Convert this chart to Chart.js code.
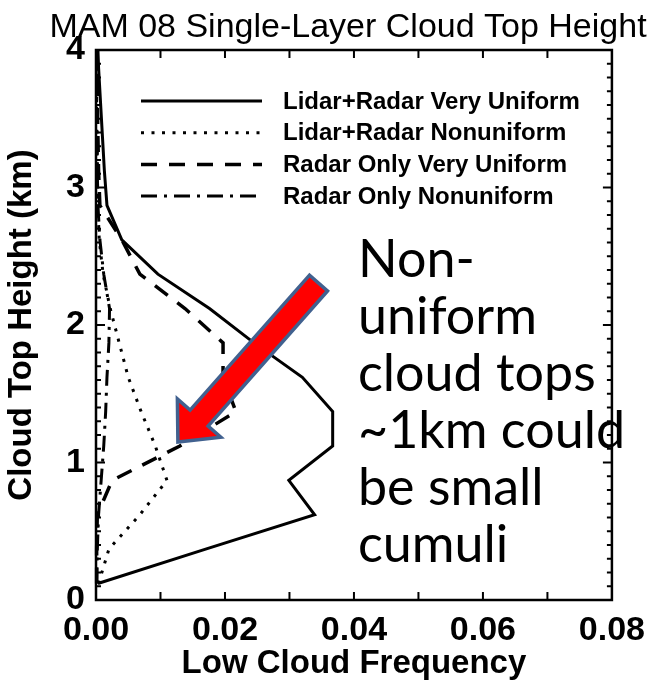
<!DOCTYPE html>
<html>
<head>
<meta charset="utf-8">
<script src="https://cdn.jsdelivr.net/npm/chart.js@4/dist/chart.umd.min.js"></script>
<style>
  body { margin: 0; background: #fff; }
  canvas { display: block; }
</style>
</head>
<body>
<canvas id="cloudTop" width="655" height="691"></canvas>
<script>
// cloud top height bins (km)
let heights = [0.12, 0.37, 0.62, 0.87, 1.12, 1.37, 1.62, 1.87, 2.12, 2.37, 2.62, 2.87, 3.12, 3.37, 3.62, 3.87, 4.0]

// low cloud frequency per bin
let lidarUniform    = [0.0003, 0.0170, 0.0339, 0.0299, 0.0367, 0.0367, 0.0320, 0.0245, 0.0176, 0.0096, 0.0040, 0.0017, 0.0013, 0.0010, 0.0007, 0.0004, 0.0003]
let lidarNonuniform = [0.0004, 0.0020, 0.0068, 0.0110, 0.0092, 0.0070, 0.0050, 0.0036, 0.0022, 0.0011, 0.0005, 0.0003, 0.0002, 0.0002, 0.0001, 0.0001, 0.0001]
let radarUniform    = [0.0001, 0.0001, 0.0002, 0.0025, 0.0130, 0.0217, 0.0197, 0.0197, 0.0138, 0.0068, 0.0040, 0.0006, 0.0004, 0.0003, 0.0002, 0.0002, 0.0001]
let radarNonuniform = [0.0001, 0.0002, 0.0004, 0.0008, 0.0012, 0.0015, 0.0017, 0.0020, 0.0021, 0.0012, 0.0006, 0.0003, 0.0002, 0.0001, 0.0001, 0.0001, 0.0001]

let seriesNames = ['Lidar+Radar Very Uniform', 'Lidar+Radar Nonuniform', 'Radar Only Very Uniform', 'Radar Only Nonuniform']
let xTicks = [0, 0.02, 0.04, 0.06, 0.08]
let yTicks = [0, 1, 2, 3, 4]

let titleText = 'MAM 08 Single-Layer Cloud Top Height'
let noteLines = ['Non-', 'uniform', 'cloud tops', '~1km could', 'be small', 'cumuli']

// arrow from the note down to the ~1 km peak (data units)
let arrowTail = { x: 0.0345, y: 2.305 }
let arrowTip = { x: 0.0127, y: 1.149 }

function toPoints (values) {
    return values.map(function (v, i) { return { x: v, y: heights[i] } })
}

Chart.defaults.font.family = "'Liberation Sans', Arial, sans-serif"
Chart.defaults.color = '#000'

// box, inward ticks, legend, title, note and arrow
let extras = {
    id: 'extras',
    afterDatasetsDraw: function (chart) {
        let ctx = chart.ctx
        let a = chart.chartArea
        let xs = chart.scales.x
        let ys = chart.scales.y
        ctx.save()

        // arrow
        let tx = xs.getPixelForValue(arrowTail.x), ty = ys.getPixelForValue(arrowTail.y)
        let hx = xs.getPixelForValue(arrowTip.x), hy = ys.getPixelForValue(arrowTip.y)
        let len = Math.hypot(hx - tx, hy - ty)
        let ang = Math.atan2(hy - ty, hx - tx)
        let sw = 12, hw = 29, hl = 32
        ctx.translate(tx, ty)
        ctx.rotate(ang)
        ctx.beginPath()
        ctx.moveTo(0, -sw)
        ctx.lineTo(len - hl, -sw)
        ctx.lineTo(len - hl, -hw)
        ctx.lineTo(len, 0)
        ctx.lineTo(len - hl, hw)
        ctx.lineTo(len - hl, sw)
        ctx.lineTo(0, sw)
        ctx.closePath()
        ctx.fillStyle = '#ff0000'
        ctx.fill()
        ctx.lineWidth = 3.5
        ctx.lineJoin = 'miter'
        ctx.strokeStyle = '#41618f'
        ctx.stroke()
        ctx.setTransform(1, 0, 0, 1, 0, 0)

        // frame
        ctx.strokeStyle = '#000'
        ctx.lineWidth = 2.5
        ctx.strokeRect(a.left, a.top, a.right - a.left, a.bottom - a.top)

        ctx.lineWidth = 2
        ctx.beginPath()
        for (let i = 1; i < 8; i++) {
            let px = xs.getPixelForValue(i * 0.01)
            ctx.moveTo(px, a.bottom); ctx.lineTo(px, a.bottom - 8)
            ctx.moveTo(px, a.top); ctx.lineTo(px, a.top + 8)
        }
        for (let i = 1; i < 40; i++) {
            let py = ys.getPixelForValue(i * 0.1)
            let tl = (i % 10 === 0) ? 9 : 5
            ctx.moveTo(a.left, py); ctx.lineTo(a.left + tl, py)
            ctx.moveTo(a.right, py); ctx.lineTo(a.right - tl, py)
        }
        ctx.stroke()

        // legend
        ctx.font = "bold 24px 'Liberation Sans', Arial, sans-serif"
        ctx.textBaseline = 'middle'
        ctx.textAlign = 'left'
        chart.data.datasets.forEach(function (ds, i) {
            let ly = a.top + 51 + i * 31.7
            ctx.beginPath()
            ctx.setLineDash(ds.borderDash || [])
            ctx.lineWidth = ds.borderWidth
            ctx.lineCap = 'butt'
            ctx.moveTo(a.left + 45, ly)
            ctx.lineTo(a.left + 166, ly)
            ctx.stroke()
            ctx.setLineDash([])
            ctx.fillStyle = '#000'
            ctx.fillText(ds.label, a.left + 187, ly + 1)
        })

        // title
        ctx.font = "34px 'Liberation Sans', Arial, sans-serif"
        ctx.textAlign = 'center'
        ctx.textBaseline = 'alphabetic'
        ctx.fillText(titleText, 348, 37)

        // note
        ctx.font = "52px Lato, 'Open Sans', sans-serif"
        ctx.textAlign = 'left'
        noteLines.forEach(function (line, i) {
            ctx.fillText(line, 358, 277 + i * 57)
        })
        ctx.restore()
    }
}

function lineSet (label, values, dash, width) {
    return {
        label: label,
        data: toPoints(values),
        showLine: true,
        borderColor: '#000',
        backgroundColor: '#000',
        borderWidth: width,
        borderDash: dash,
        pointRadius: 0,
        tension: 0,
        clip: false
    }
}

let cloudChart = new Chart(document.getElementById('cloudTop').getContext('2d'), {
    type: 'scatter',
    data: {
        datasets: [
            lineSet(seriesNames[0], lidarUniform, [], 3),
            lineSet(seriesNames[1], lidarNonuniform, [3, 7.5], 3),
            lineSet(seriesNames[2], radarUniform, [16, 12], 3.5),
            lineSet(seriesNames[3], radarNonuniform, [16, 7, 3, 7], 3)
        ]
    },
    options: {
        responsive: false,
        animation: false,
        devicePixelRatio: 1,
        layout: { padding: { top: 50, right: 42, left: 0, bottom: 0 } },
        plugins: { legend: { display: false }, tooltip: { enabled: false } },
        scales: {
            x: {
                type: 'linear',
                min: 0,
                max: 0.08,
                afterFit: function (scale) { scale.height = 91 },
                afterBuildTicks: function (scale) { scale.ticks = xTicks.map(function (v) { return { value: v } }) },
                grid: { display: false, drawTicks: false },
                border: { display: false },
                ticks: {
                    padding: 10,
                    maxRotation: 0,
                    font: { size: 34, weight: 'bold' },
                    callback: function (v) { return v.toFixed(2) }
                },
                title: { display: true, text: 'Low Cloud Frequency', font: { size: 33, weight: 'bold' }, padding: { top: 0, bottom: 7 } }
            },
            y: {
                type: 'linear',
                min: 0,
                max: 4,
                afterFit: function (scale) { scale.width = 96 },
                afterBuildTicks: function (scale) { scale.ticks = yTicks.map(function (v) { return { value: v } }) },
                grid: { display: false, drawTicks: false },
                border: { display: false },
                ticks: {
                    padding: 11,
                    font: { size: 34, weight: 'bold' },
                    callback: function (v) { return String(v) }
                },
                title: { display: true, text: 'Cloud Top Height (km)', font: { size: 33, weight: 'bold' }, padding: { top: 2, bottom: 0 } }
            }
        }
    },
    plugins: [extras]
})
</script>
</body>
</html>
